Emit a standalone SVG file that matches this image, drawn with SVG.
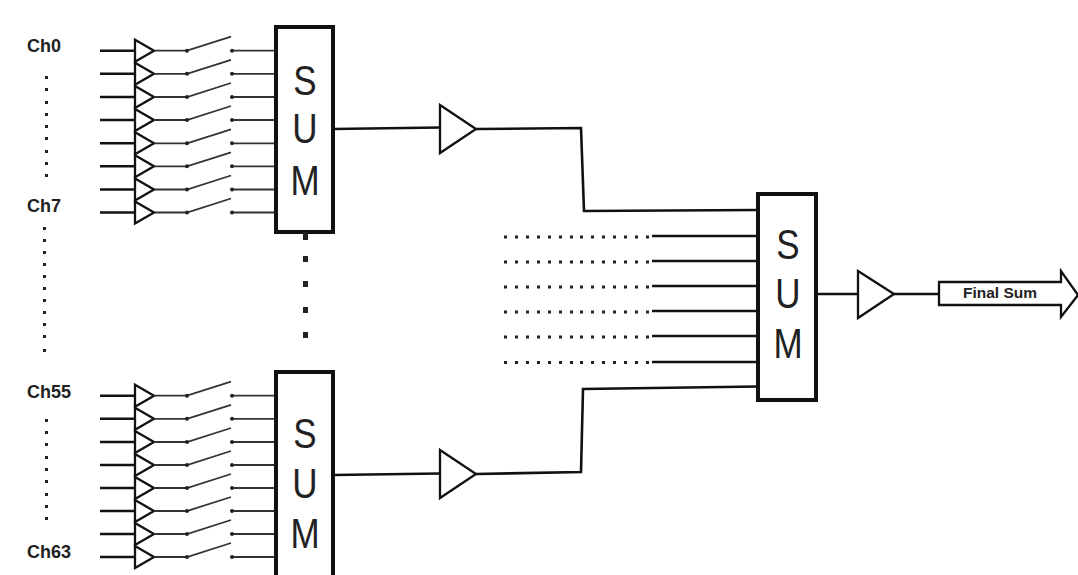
<svg xmlns="http://www.w3.org/2000/svg" xmlns:xlink="http://www.w3.org/1999/xlink" width="1078" height="575" viewBox="0 0 1078 575">
<style>
.bg{fill:#fff}
.box{fill:#fff;stroke:#111;stroke-width:4;stroke-linejoin:miter}
.tri{fill:none;stroke:#111;stroke-width:2.3;stroke-linejoin:miter}
.w{fill:none;stroke:#111;stroke-width:2.6}
.t{fill:none;stroke:#333;stroke-width:1.8}
.in{stroke:#111;stroke-width:2.6}
.dot{fill:#222}
.ch{font:bold 18px "Liberation Sans",Arial,sans-serif;fill:#222}
.sum{font:35px "Liberation Sans",Arial,sans-serif;fill:#222;text-anchor:middle}
.fs{font:bold 15.500px "Liberation Sans",Arial,sans-serif;fill:#222;text-anchor:middle}
</style>
<defs>
<g id="chan">
<line class="in" x1="100" y1="0" x2="135" y2="0"/>
<path class="tri" d="M135 -11L154 0L135 11Z"/>
<path class="t" d="M154 0H187L231 -14M232 0H276"/>
<circle class="dot" cx="187" cy="0" r="2"/>
<circle class="dot" cx="232" cy="0" r="2"/>
</g>
<g id="dots14">
<rect class="dot" x="504" y="-1.5" width="3" height="3"/><rect class="dot" x="515" y="-1.5" width="3" height="3"/><rect class="dot" x="526" y="-1.5" width="3" height="3"/><rect class="dot" x="537" y="-1.5" width="3" height="3"/><rect class="dot" x="548" y="-1.5" width="3" height="3"/><rect class="dot" x="559" y="-1.5" width="3" height="3"/><rect class="dot" x="570" y="-1.5" width="3" height="3"/><rect class="dot" x="580" y="-1.5" width="3" height="3"/><rect class="dot" x="591" y="-1.5" width="3" height="3"/><rect class="dot" x="602" y="-1.5" width="3" height="3"/><rect class="dot" x="613" y="-1.5" width="3" height="3"/><rect class="dot" x="624" y="-1.5" width="3" height="3"/><rect class="dot" x="635" y="-1.5" width="3" height="3"/><rect class="dot" x="646" y="-1.5" width="3" height="3"/>
</g>
</defs>
<rect class="bg" width="1078" height="575"/>
<g id="connectors">
<path class="w" d="M333 129L440 127.500M476 129L581 128L584 211L758 210"/>
<path class="w" d="M333 475L440 473.500M476 474L581 472L583 389L758 386.500"/>
<path class="w" d="M652 236H758M652 261H758M652 286H758M652 311H758M652 336H758M652 362H758"/>
<path class="w" d="M816 294H858M894 294H939"/>
</g>
<g id="channels-top">
<use xlink:href="#chan" href="#chan" y="50.700"/><use xlink:href="#chan" href="#chan" y="73.800"/><use xlink:href="#chan" href="#chan" y="97"/><use xlink:href="#chan" href="#chan" y="120"/><use xlink:href="#chan" href="#chan" y="143.300"/><use xlink:href="#chan" href="#chan" y="166.300"/><use xlink:href="#chan" href="#chan" y="189.500"/><use xlink:href="#chan" href="#chan" y="212.500"/>
</g>
<g id="channels-bottom">
<use xlink:href="#chan" href="#chan" y="395.700"/><use xlink:href="#chan" href="#chan" y="418.800"/><use xlink:href="#chan" href="#chan" y="442"/><use xlink:href="#chan" href="#chan" y="465"/><use xlink:href="#chan" href="#chan" y="488"/><use xlink:href="#chan" href="#chan" y="511"/><use xlink:href="#chan" href="#chan" y="534"/><use xlink:href="#chan" href="#chan" y="557"/>
</g>
<g id="labels">
<text class="ch" x="27" y="52">Ch0</text>
<text class="ch" x="27" y="212">Ch7</text>
<text class="ch" x="27" y="398">Ch55</text>
<text class="ch" x="27" y="558">Ch63</text>
</g>
<g id="ellipses-left" class="dot">
<rect x="45" y="76" width="3" height="3"/><rect x="45" y="88" width="3" height="3"/><rect x="45" y="101" width="3" height="3"/><rect x="45" y="113" width="3" height="3"/><rect x="45" y="125" width="3" height="3"/><rect x="45" y="137" width="3" height="3"/><rect x="45" y="150" width="3" height="3"/><rect x="45" y="162" width="3" height="3"/><rect x="45" y="174" width="3" height="3"/>
<rect x="43" y="227" width="3" height="3"/><rect x="43" y="239" width="3" height="3"/><rect x="43" y="251" width="3" height="3"/><rect x="43" y="263" width="3" height="3"/><rect x="43" y="275" width="3" height="3"/><rect x="43" y="287" width="3" height="3"/><rect x="43" y="299" width="3" height="3"/><rect x="43" y="311" width="3" height="3"/><rect x="43" y="323" width="3" height="3"/><rect x="43" y="335" width="3" height="3"/><rect x="43" y="349" width="3" height="3"/>
<rect x="45" y="419" width="3" height="3"/><rect x="45" y="431" width="3" height="3"/><rect x="45" y="443" width="3" height="3"/><rect x="45" y="456" width="3" height="3"/><rect x="45" y="468" width="3" height="3"/><rect x="45" y="480" width="3" height="3"/><rect x="45" y="493" width="3" height="3"/><rect x="45" y="505" width="3" height="3"/><rect x="45" y="517" width="3" height="3"/>
</g>
<g id="sum-top">
<rect class="box" x="276" y="27" width="57" height="205"/>
<text class="sum" transform="translate(305 95) scale(1 1.200)">S</text><text class="sum" transform="translate(305 143) scale(1 1.200)">U</text><text class="sum" transform="translate(305 195) scale(1 1.200)">M</text>
</g>
<g id="ellipsis-middle" class="dot">
<rect x="303" y="232" width="5" height="8"/><rect x="303" y="256" width="5" height="6"/><rect x="303" y="281" width="5" height="6"/><rect x="303" y="307" width="5" height="6"/><rect x="303" y="332" width="5" height="6"/>
</g>
<g id="sum-bottom">
<path class="box" d="M276 577V372H333V577"/>
<text class="sum" transform="translate(305 448) scale(1 1.200)">S</text><text class="sum" transform="translate(305 498) scale(1 1.200)">U</text><text class="sum" transform="translate(305 548) scale(1 1.200)">M</text>
</g>
<g id="amp-top"><path class="tri" d="M440 105L476 129L440 153Z"/></g>
<g id="amp-bottom"><path class="tri" d="M440 450L476 474L440 498Z"/></g>
<g id="input-dots">
<use xlink:href="#dots14" href="#dots14" y="237"/><use xlink:href="#dots14" href="#dots14" y="262"/><use xlink:href="#dots14" href="#dots14" y="287"/><use xlink:href="#dots14" href="#dots14" y="312"/><use xlink:href="#dots14" href="#dots14" y="337"/><use xlink:href="#dots14" href="#dots14" y="362.500"/>
</g>
<g id="sum-final">
<rect class="box" x="758" y="194" width="58" height="206"/>
<text class="sum" transform="translate(788 259) scale(1 1.200)">S</text><text class="sum" transform="translate(788 308) scale(1 1.200)">U</text><text class="sum" transform="translate(788 358) scale(1 1.200)">M</text>
</g>
<g id="amp-final"><path class="tri" d="M858 271L894 294L858 318Z"/></g>
<g id="final-sum">
<path class="tri" d="M939 282H1061V271L1078 295L1061 317V305H939Z" style="fill:#fff"/>
<text class="fs" x="1000" y="298">Final Sum</text>
</g>
</svg>
